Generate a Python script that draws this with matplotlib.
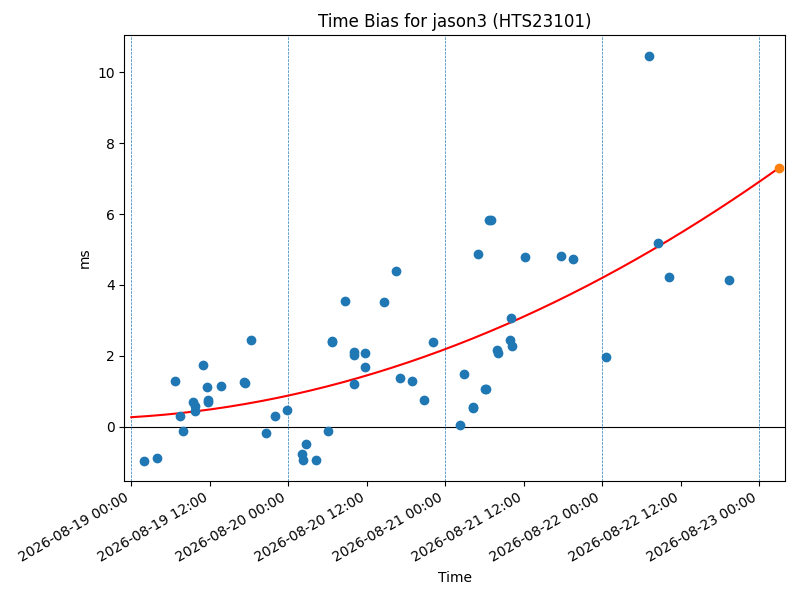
#!/usr/bin/env python3
"""Time bias scatter with quadratic trend for jason3 (HTS23101)."""
import numpy as np
import pandas as pd
import matplotlib
matplotlib.use("Agg")
import matplotlib.pyplot as plt
import matplotlib.dates as mdates

# Measured time bias samples (ms)
times = [
    "2026-08-19 01:52", "2026-08-19 03:52", "2026-08-19 06:37", "2026-08-19 07:23",
    "2026-08-19 07:51", "2026-08-19 09:22", "2026-08-19 09:47", "2026-08-19 09:40",
    "2026-08-19 10:54", "2026-08-19 11:34", "2026-08-19 11:40", "2026-08-19 11:42",
    "2026-08-19 13:39", "2026-08-19 17:15", "2026-08-19 17:20", "2026-08-19 18:20",
    "2026-08-19 20:33", "2026-08-19 21:55", "2026-08-19 23:51",
    "2026-08-20 02:05", "2026-08-20 02:11", "2026-08-20 02:38", "2026-08-20 04:16",
    "2026-08-20 06:00", "2026-08-20 06:38", "2026-08-20 06:43", "2026-08-20 08:37",
    "2026-08-20 09:59", "2026-08-20 09:59", "2026-08-20 09:59", "2026-08-20 11:48",
    "2026-08-20 11:48", "2026-08-20 14:34", "2026-08-20 16:30", "2026-08-20 17:01",
    "2026-08-20 18:52", "2026-08-20 20:41", "2026-08-20 22:03",
    "2026-08-21 02:18", "2026-08-21 02:48", "2026-08-21 04:10", "2026-08-21 04:16",
    "2026-08-21 04:57", "2026-08-21 06:00", "2026-08-21 06:15", "2026-08-21 06:40",
    "2026-08-21 06:56", "2026-08-21 07:57", "2026-08-21 08:08", "2026-08-21 09:50",
    "2026-08-21 10:09", "2026-08-21 10:05", "2026-08-21 12:07", "2026-08-21 17:38",
    "2026-08-21 19:28",
    "2026-08-22 00:30", "2026-08-22 07:05", "2026-08-22 08:27", "2026-08-22 10:15",
    "2026-08-22 19:19",
]
bias_ms = [
    -0.96, -0.88, 1.29, 0.31,
    -0.11, 0.71, 0.59, 0.44,
    1.75, 1.12, 0.76, 0.70,
    1.16, 1.25, 1.24, 2.46,
    -0.18, 0.31, 0.47,
    -0.76, -0.95, -0.48, -0.93,
    -0.11, 2.41, 2.40, 3.56,
    2.10, 2.02, 1.21, 2.08,
    1.69, 3.52, 4.40, 1.37,
    1.29, 0.75, 2.40,
    0.06, 1.50, 0.55, 0.54,
    4.86, 1.07, 1.07, 5.82,
    5.82, 2.17, 2.08, 2.44,
    2.27, 3.08, 4.79, 4.83,
    4.74,
    1.98, 10.47, 5.19, 4.23,
    4.15,
]

# Predicted point at the end of the trend
pred_time = "2026-08-23 02:57"
pred_ms = 7.31

# Quadratic trend: ms = c0 + c1*t + c2*t^2, t in days since fit_start
fit_start = "2026-08-19 00:00"
fit_coef = [0.27, 0.26, 0.35]

t = pd.to_datetime(times)
t0 = pd.Timestamp(fit_start)
tp = pd.Timestamp(pred_time)

days = np.linspace(0, (tp - t0) / pd.Timedelta(days=1), 200)
curve_t = t0 + pd.to_timedelta(days, unit="D")
curve_y = fit_coef[0] + fit_coef[1] * days + fit_coef[2] * days ** 2

fig, ax = plt.subplots(figsize=(8, 6), dpi=100)

ax.scatter(t, bias_ms, color="C0", zorder=3)
ax.plot(curve_t, curve_y, color="red", lw=1.5, zorder=2)
ax.scatter([tp], [pred_ms], color="C1", zorder=4)

ax.axhline(0, color="black", lw=0.8, zorder=1)
for d in pd.date_range("2026-08-19", "2026-08-23", freq="D"):
    ax.axvline(d, color="C0", ls="--", lw=0.5, zorder=1)

ax.set_xlim(pd.Timestamp("2026-08-18 22:56"), pd.Timestamp("2026-08-23 03:59"))
ax.set_ylim(-1.53, 11.05)

ax.xaxis.set_major_locator(mdates.HourLocator(byhour=[0, 12]))
ax.xaxis.set_major_formatter(mdates.DateFormatter("%Y-%m-%d %H:%M"))
fig.autofmt_xdate()

ax.set_title("Time Bias for jason3 (HTS23101)")
ax.set_xlabel("Time")
ax.set_ylabel("ms")

fig.subplots_adjust(left=0.1554, right=0.9816, top=0.9417, bottom=0.1983)
fig.savefig("out.png", dpi=100, facecolor="white")
